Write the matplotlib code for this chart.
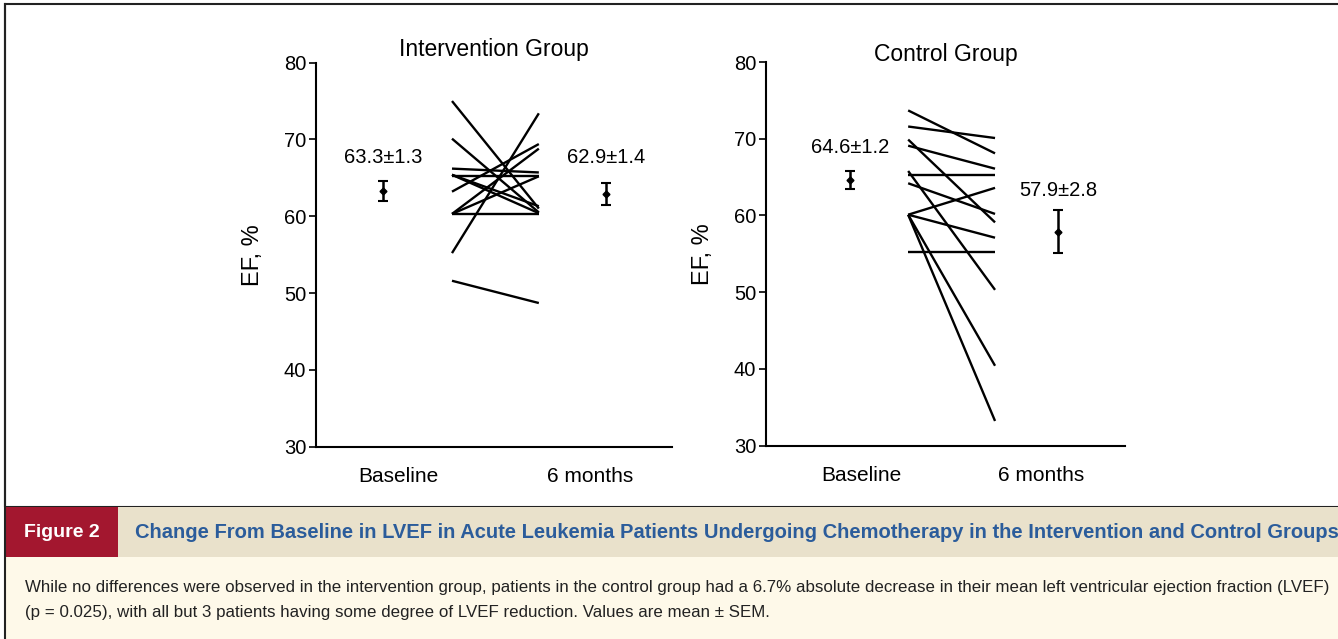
import matplotlib.pyplot as plt
from matplotlib.patches import Rectangle

plt.rcParams['font.family'] = ['Liberation Sans', 'DejaVu Sans']

# EF (%) per patient, baseline and 6 months
interv_base = [75.0, 70.1, 55.2, 63.2, 66.2, 65.2, 65.4, 65.4, 60.3, 60.3, 60.3, 51.6]
interv_6m = [61.0, 60.5, 73.4, 69.4, 65.7, 65.2, 60.4, 61.3, 60.3, 65.2, 68.8, 48.7]

control_base = [73.7, 71.6, 69.9, 69.1, 65.8, 65.3, 64.2, 60.1, 60.1, 60.1, 60.1, 55.3]
control_6m = [68.1, 70.1, 59.1, 66.1, 50.3, 65.3, 60.2, 63.6, 57.1, 40.4, 33.2, 55.3]

# mean +/- SEM
interv_mean = [63.3, 62.9]
interv_sem = [1.3, 1.4]
control_mean = [64.6, 57.9]
control_sem = [1.2, 2.8]

titles = ['Intervention Group', 'Control Group']
time_labels = ['Baseline', '6 months']
y_ticks = [30, 40, 50, 60, 70, 80]

fig = plt.figure(figsize=(13.38, 6.39), dpi=100)

paneles = [
    dict(rect=[0.2362, 0.301, 0.266, 0.601], base=interv_base, m6=interv_6m,
         mean=interv_mean, sem=interv_sem, title=titles[0], tpad=4.5,
         xs=(0.382, 0.626), xm=(0.188, 0.815), xt=(0.23, 0.77),
         lab_y=(67.6, 67.6)),
    dict(rect=[0.5725, 0.3028, 0.2683, 0.600], base=control_base, m6=control_6m,
         mean=control_mean, sem=control_sem, title=titles[1], tpad=1,
         xs=(0.396, 0.638), xm=(0.234, 0.813), xt=(0.267, 0.766),
         lab_y=(68.8, 63.3)),
]

for p in paneles:
    ax = fig.add_axes(p['rect'])
    x0, x1 = p['xs']
    for b, m in zip(p['base'], p['m6']):
        ax.plot([x0, x1], [b, m], color='black', lw=1.7, solid_capstyle='butt')

    for i in range(2):
        ax.errorbar(p['xm'][i], p['mean'][i], yerr=p['sem'][i], fmt='D',
                    ms=3.5, color='black', ecolor='black', elinewidth=1.8,
                    capsize=3.5, capthick=1.5)
        ax.text(p['xm'][i], p['lab_y'][i], f"{p['mean'][i]}±{p['sem'][i]}",
                ha='center', va='center', fontsize=14.5)

    ax.set_xlim(0, 1)
    ax.set_ylim(30, 80)
    ax.set_yticks(y_ticks)
    ax.set_xticks(p['xt'])
    ax.set_xticklabels(time_labels, fontsize=15)
    ax.tick_params(axis='x', length=0, pad=15)
    ax.tick_params(axis='y', length=5, width=1.2, labelsize=14.5, pad=2)
    ax.spines['top'].set_visible(False)
    ax.spines['right'].set_visible(False)
    ax.spines['left'].set_linewidth(1.5)
    ax.spines['bottom'].set_linewidth(1.5)
    ax.set_ylabel('EF, %', fontsize=17, labelpad=14)
    ax.set_title(p['title'], fontsize=16.5, y=1.0, pad=p['tpad'])

# marco y leyenda de la figura
fig.add_artist(Rectangle((0.004, 0.207), 1.0, 0.786, transform=fig.transFigure,
                         fill=False, edgecolor='#222222', lw=1.5))
fig.add_artist(Rectangle((0.004, 0.128), 1.0, 0.079, transform=fig.transFigure,
                         facecolor='#E9E1CB', edgecolor='none'))
fig.add_artist(Rectangle((0.004, 0.128), 0.084, 0.079, transform=fig.transFigure,
                         facecolor='#A3172F', edgecolor='none'))
fig.add_artist(Rectangle((0.004, 0.0), 1.0, 0.128, transform=fig.transFigure,
                         facecolor='#FEF9E9', edgecolor='none'))
fig.add_artist(plt.Line2D([0.004, 0.004], [0.0, 0.993], transform=fig.transFigure,
                          color='#222222', lw=1.5))

fig.text(0.046, 0.167, 'Figure 2', color='white', fontsize=14, fontweight='bold',
         ha='center', va='center')
fig.text(0.101, 0.167,
         'Change From Baseline in LVEF in Acute Leukemia Patients Undergoing '
         'Chemotherapy in the Intervention and Control Groups',
         color='#2B5C9B', fontsize=14.5, fontweight='bold', ha='left', va='center')
fig.text(0.019, 0.080,
         'While no differences were observed in the intervention group, patients in the '
         'control group had a 6.7% absolute decrease in their mean left ventricular '
         'ejection fraction (LVEF)',
         fontsize=12.2, ha='left', va='center', color='#222222')
fig.text(0.019, 0.041,
         '(p = 0.025), with all but 3 patients having some degree of LVEF reduction. '
         'Values are mean ± SEM.',
         fontsize=12.2, ha='left', va='center', color='#222222')

fig.savefig('out.png', dpi=100)
